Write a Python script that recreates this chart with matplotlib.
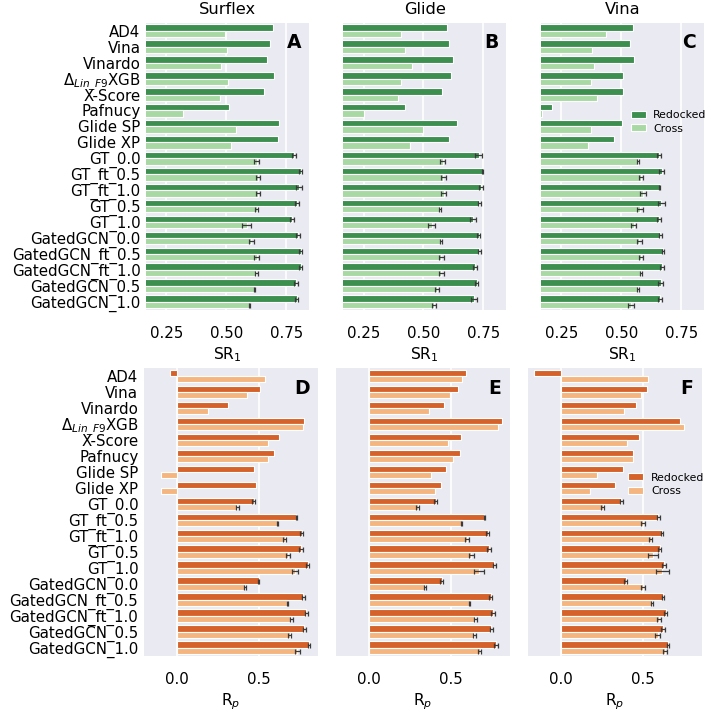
import numpy as np
import matplotlib
matplotlib.use("Agg")
import matplotlib.pyplot as plt

plt.rcParams['font.family'] = ['DejaVu Sans']

categories = ["AD4", "Vina", "Vinardo", r"$\Delta_{Lin\_F9}$XGB", "X-Score", "Pafnucy",
              "Glide SP", "Glide XP", "GT_0.0", "GT_ft_0.5", "GT_ft_1.0", "GT_0.5", "GT_1.0",
              "GatedGCN_0.0", "GatedGCN_ft_0.5", "GatedGCN_ft_1.0", "GatedGCN_0.5", "GatedGCN_1.0"]
titles = ["Surflex", "Glide", "Vina"]
letters_top = ["A", "B", "C"]
letters_bot = ["D", "E", "F"]

# SR1 values (top row)
sr_surflex_red = [0.694, 0.683, 0.671, 0.698, 0.657, 0.509, 0.721, 0.717, 0.782, 0.810, 0.803, 0.796, 0.775, 0.799, 0.810, 0.810, 0.789, 0.793]
sr_surflex_cross = [0.495, 0.503, 0.476, 0.506, 0.473, 0.320, 0.542, 0.520, 0.626, 0.632, 0.632, 0.627, 0.584, 0.604, 0.627, 0.625, 0.618, 0.597]
sr_glide_red = [0.600, 0.605, 0.624, 0.614, 0.579, 0.421, 0.641, 0.607, 0.730, 0.747, 0.739, 0.733, 0.708, 0.730, 0.733, 0.715, 0.722, 0.712]
sr_glide_cross = [0.405, 0.422, 0.451, 0.405, 0.395, 0.250, 0.500, 0.442, 0.580, 0.583, 0.585, 0.568, 0.535, 0.572, 0.575, 0.575, 0.556, 0.544]
sr_vina_red = [0.549, 0.538, 0.555, 0.506, 0.509, 0.209, 0.501, 0.469, 0.657, 0.669, 0.660, 0.666, 0.657, 0.662, 0.674, 0.670, 0.665, 0.660]
sr_vina_cross = [0.435, 0.378, 0.388, 0.375, 0.400, 0.170, 0.375, 0.363, 0.570, 0.582, 0.589, 0.579, 0.551, 0.575, 0.582, 0.582, 0.570, 0.542]

# Rp values (bottom row)
rp_surflex_red = [-0.040, 0.508, 0.316, 0.779, 0.623, 0.593, 0.472, 0.482, 0.470, 0.731, 0.763, 0.759, 0.800, 0.500, 0.773, 0.791, 0.779, 0.808]
rp_surflex_cross = [0.536, 0.427, 0.194, 0.771, 0.559, 0.555, -0.097, -0.097, 0.370, 0.617, 0.658, 0.680, 0.723, 0.417, 0.674, 0.700, 0.690, 0.735]
rp_glide_red = [0.593, 0.547, 0.457, 0.813, 0.563, 0.559, 0.472, 0.443, 0.407, 0.705, 0.726, 0.734, 0.766, 0.445, 0.744, 0.758, 0.748, 0.776]
rp_glide_cross = [0.569, 0.498, 0.366, 0.789, 0.484, 0.516, 0.378, 0.402, 0.297, 0.567, 0.600, 0.626, 0.673, 0.343, 0.616, 0.650, 0.644, 0.677]
rp_vina_red = [-0.163, 0.526, 0.457, 0.728, 0.474, 0.439, 0.378, 0.329, 0.368, 0.593, 0.616, 0.602, 0.630, 0.394, 0.622, 0.638, 0.624, 0.652]
rp_vina_cross = [0.528, 0.490, 0.382, 0.750, 0.400, 0.441, 0.222, 0.177, 0.254, 0.500, 0.547, 0.563, 0.618, 0.500, 0.555, 0.600, 0.589, 0.632]

# error bars (only for GT / GatedGCN models; first 8 rows have none)
sr_surflex_red_err = [0.008, 0.006, 0.012, 0.008, 0.008, 0.008, 0.006, 0.006, 0.008, 0.006]
sr_surflex_cross_err = [0.012, 0.010, 0.010, 0.006, 0.020, 0.010, 0.010, 0.006, 0.003, 0.003]
sr_glide_red_err = [0.015, 0.003, 0.008, 0.006, 0.012, 0.005, 0.006, 0.008, 0.006, 0.012]
sr_glide_cross_err = [0.010, 0.010, 0.010, 0.004, 0.015, 0.005, 0.010, 0.010, 0.008, 0.008]
sr_vina_red_err = [0.010, 0.010, 0.003, 0.015, 0.008, 0.006, 0.005, 0.008, 0.010, 0.008]
sr_vina_cross_err = [0.003, 0.010, 0.012, 0.012, 0.010, 0.010, 0.008, 0.005, 0.004, 0.012]
rp_surflex_red_err = [0.008, 0.003, 0.010, 0.012, 0.008, 0.005, 0.008, 0.010, 0.008, 0.008]
rp_surflex_cross_err = [0.008, 0.003, 0.012, 0.012, 0.020, 0.004, 0.003, 0.010, 0.008, 0.015]
rp_glide_red_err = [0.008, 0.003, 0.010, 0.012, 0.010, 0.008, 0.008, 0.010, 0.008, 0.010]
rp_glide_cross_err = [0.008, 0.003, 0.012, 0.015, 0.030, 0.005, 0.003, 0.010, 0.010, 0.010]
rp_vina_red_err = [0.008, 0.010, 0.008, 0.008, 0.012, 0.008, 0.008, 0.008, 0.012, 0.005]
rp_vina_cross_err = [0.010, 0.010, 0.008, 0.030, 0.040, 0.012, 0.008, 0.012, 0.015, 0.012]

top_data = [(sr_surflex_red, sr_surflex_cross, sr_surflex_red_err, sr_surflex_cross_err),
            (sr_glide_red, sr_glide_cross, sr_glide_red_err, sr_glide_cross_err),
            (sr_vina_red, sr_vina_cross, sr_vina_red_err, sr_vina_cross_err)]
bot_data = [(rp_surflex_red, rp_surflex_cross, rp_surflex_red_err, rp_surflex_cross_err),
            (rp_glide_red, rp_glide_cross, rp_glide_red_err, rp_glide_cross_err),
            (rp_vina_red, rp_vina_cross, rp_vina_red_err, rp_vina_cross_err)]

green_dark, green_light = "#3d8f50", "#a8d9a4"
orange_dark, orange_light = "#d4622a", "#f5b580"
bg = "#eaeaf2"
FS = 10.8

fig = plt.figure(figsize=(7.09, 7.12), dpi=100)

top_lefts = [0.206, 0.484, 0.763]
bot_lefts = [0.203, 0.474, 0.745]


def draw(ax, red, cross, rerr, cerr, cdark, clight, xlim, ticks, fmt):
    n = len(categories)
    y = np.arange(n)
    ax.set_facecolor(bg)
    for s in ax.spines.values():
        s.set_visible(False)
    ax.set_axisbelow(True)
    ax.grid(axis='x', color='white', linewidth=1.2)
    ax.barh(y - 0.2, red, height=0.4, color=cdark, edgecolor='white', linewidth=0.8, label='Redocked')
    ax.barh(y + 0.2, cross, height=0.4, color=clight, edgecolor='white', linewidth=0.8, label='Cross')
    k = len(rerr)
    ym = y[n - k:]
    ax.errorbar(np.array(red)[n - k:], ym - 0.2, xerr=rerr, fmt='none', ecolor='#3a3a3a',
                elinewidth=0.9, capsize=1.8, capthick=0.9)
    ax.errorbar(np.array(cross)[n - k:], ym + 0.2, xerr=cerr, fmt='none', ecolor='#3a3a3a',
                elinewidth=0.9, capsize=1.8, capthick=0.9)
    ax.set_ylim(n - 0.5, -0.5)
    ax.set_xlim(*xlim)
    ax.set_xticks(ticks)
    ax.set_xticklabels([fmt.format(t) for t in ticks], fontsize=FS)
    ax.set_yticks(y)
    ax.tick_params(axis='x', length=0, pad=12)
    ax.tick_params(axis='y', length=0, pad=4)


leg_kw = dict(frameon=False, fontsize=7.8, handlelength=1.4, handleheight=0.6,
              handletextpad=0.7, labelspacing=0.35)

for i in range(3):
    ax = fig.add_axes([top_lefts[i], 0.565, 0.230, 0.403])
    r, c, re, ce = top_data[i]
    draw(ax, r, c, re, ce, green_dark, green_light, (0.165, 0.845), [0.25, 0.5, 0.75], "{:.2f}")
    ax.set_title(titles[i], fontsize=11.7, pad=6)
    ax.set_xlabel(r"SR$_1$", fontsize=11.2, labelpad=3)
    if i == 0:
        ax.set_yticklabels(categories, fontsize=FS)
    else:
        ax.set_yticklabels([])
    ax.text(0.91, 0.93, letters_top[i], transform=ax.transAxes, fontsize=13.5,
            fontweight='bold', ha='center', va='center')
    if i == 2:
        ax.legend(loc='center left', bbox_to_anchor=(0.49, 0.655), **leg_kw)

for i in range(3):
    ax = fig.add_axes([bot_lefts[i], 0.079, 0.245, 0.404])
    r, c, re, ce = bot_data[i]
    draw(ax, r, c, re, ce, orange_dark, orange_light, (-0.2, 0.86), [0.0, 0.5], "{:.1f}")
    ax.set_xlabel(r"R$_p$", fontsize=11.2, labelpad=3)
    if i == 0:
        ax.set_yticklabels(categories, fontsize=FS)
    else:
        ax.set_yticklabels([])
    ax.text(0.91, 0.93, letters_bot[i], transform=ax.transAxes, fontsize=13.5,
            fontweight='bold', ha='center', va='center')
    if i == 2:
        ax.legend(loc='center left', bbox_to_anchor=(0.52, 0.595), **leg_kw)

fig.savefig("out.png", dpi=100)
